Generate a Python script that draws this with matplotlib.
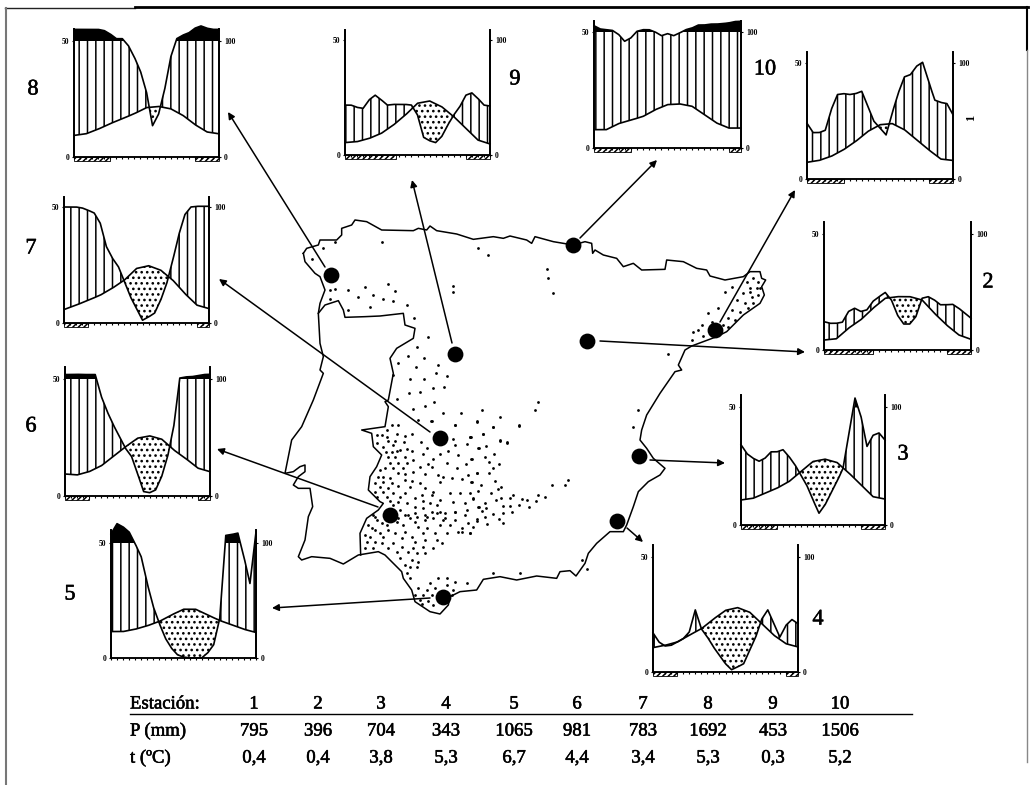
import matplotlib
matplotlib.use("Agg")
import matplotlib.pyplot as plt
import matplotlib.patheffects as pe
import numpy as np

W, H = 1030, 785
plt.rcParams['font.family'] = ['Liberation Serif', 'DejaVu Serif']
plt.rcParams['hatch.linewidth'] = 1.1

# monthly temperature, 13 values, and precipitation on half months, 25 values (P/2 scale)
months = np.arange(0, 13)
half_months = np.arange(0, 12.5, 0.5)

t_1 = [7.2, 8, 9.8, 12.6, 16.2, 20.5, 23.4, 23.9, 21.3, 17, 12.6, 8.6, 8]
p_1 = [24, 20, 20, 21, 30, 36.4, 36.8, 36.4, 36.8, 37.8, 31.3, 24.9, 22, 19, 28.4, 37, 44, 45, 48.6, 50.3, 42, 34, 33, 32.5, 27.7]
t_2 = [4.3, 4.8, 9.4, 13, 18, 22.3, 23, 23, 21.6, 15.9, 10.8, 6.5, 4.6]
p_2 = [12.2, 11.5, 11.5, 12, 16.6, 18, 16.6, 17.3, 21, 23, 24.8, 21.6, 15, 11.2, 11.2, 14.4, 22.3, 23, 21.6, 19.5, 19.5, 19.7, 18, 15.9, 13.7]
t_3 = [10.6, 11.3, 13.5, 15.6, 18.4, 22.7, 26.9, 27.9, 26.5, 22, 17, 12, 11]
p_3 = [34, 30.2, 28.3, 27, 28.3, 31, 31, 31.9, 29, 25.5, 21, 16.6, 10.6, 5, 8.5, 13.5, 18.4, 24, 39, 53.8, 46, 33.3, 38, 39, 36]
t_4 = [10.6, 11.6, 13, 16, 18.8, 23, 26.8, 28, 26, 21, 16, 12.3, 10.9]
p_4 = [17, 13, 11.3, 11.6, 13, 14.5, 17.4, 27, 18.8, 15.2, 10.9, 7.2, 3.6, 1, 2.2, 3.6, 9.4, 15.2, 23, 27, 21, 15.2, 20.3, 22.8, 21]
t_5 = [11.5, 11.5, 12.5, 14, 15.9, 18.7, 21.2, 21.2, 18.7, 16.3, 14.4, 12.5, 11.1]
p_5 = [54, 58.4, 57, 54.8, 49.7, 44, 32.4, 22.3, 15, 8.6, 4.3, 1.4, 0.4, 0, 0, 0, 2.2, 5.8, 17.3, 53.3, 53.7, 54.3, 44, 32.4, 54.8]
t_6 = [9.4, 9, 10.4, 12.9, 16.9, 21, 24.7, 25.7, 24.3, 19.7, 16, 11.9, 10.4]
p_6 = [51.9, 51.9, 52, 51.9, 51.9, 51.9, 42.6, 36, 30.4, 25.4, 20.4, 17, 9.7, 1.9, 1.4, 2.6, 8.3, 17, 29.7, 50.4, 50.9, 51, 51.4, 51.9, 52]
t_7 = [5.8, 7.7, 9.8, 12, 15, 18.5, 23.5, 24.7, 22.8, 18.5, 12.7, 7.7, 6.2]
p_7 = [50, 50, 50, 49.6, 48.6, 47.4, 43, 33, 28, 24.3, 17.8, 11.3, 6.2, 1.2, 2.6, 4.3, 9.8, 17, 27, 38, 46.7, 50, 50.3, 50.3, 50.3]
t_8 = [9.3, 10, 12, 14.4, 16.5, 18.7, 21.3, 21.8, 20.8, 18, 14, 10.8, 10]
p_8 = [55, 55, 55, 55, 55, 54.5, 53, 51, 51, 48, 43, 37, 28, 13.5, 18.5, 29, 43, 51, 52.5, 53.5, 55.5, 56.5, 55.5, 55, 55]
t_9 = [5.4, 5.8, 7.2, 9.4, 13, 17.4, 22.5, 23.5, 21, 16.7, 11.6, 6.5, 4.8]
p_9 = [21.7, 21.7, 20.7, 20.3, 24, 26, 24, 21.7, 22, 22, 22, 21.7, 17.4, 7.7, 6.2, 5.4, 8, 13, 17.4, 21, 26, 27, 24.6, 21.7, 21.3]
t_10 = [7.9, 7.9, 10.5, 12, 13.6, 16.5, 18.7, 19, 18, 14.4, 10.8, 8.6, 8.6]
p_10 = [52.7, 51.3, 51, 50.7, 49, 46, 47.4, 50.3, 51, 51, 50, 48.4, 49.3, 48.4, 49.6, 51, 51.7, 53, 53, 53.4, 53.4, 53.6, 53.9, 54.5, 54.6]

temps = [t_1, t_2, t_3, t_4, t_5, t_6, t_7, t_8, t_9, t_10]
precs = [p_1, p_2, p_3, p_4, p_5, p_6, p_7, p_8, p_9, p_10]

# months of frost at start and end of the year
frost_start = [3, 4, 3, 2, 0, 2, 2, 3, 4.2, 3]
frost_end = [10, 10, 10, 11, 12, 11, 11, 10, 10, 11]

# table
stations = ['1', '2', '3', '4', '5', '6', '7', '8', '9', '10']
p_mm = ['795', '396', '704', '343', '1065', '981', '783', '1692', '453', '1506']
t_c = ['0,4', '0,4', '3,8', '5,3', '6,7', '4,4', '3,4', '5,3', '0,3', '5,2']
table_x = [254, 318, 381, 446, 514, 577, 643, 708, 773, 840]

# box of each diagram in pixels: left, right, base, level of 50, top of the spines
boxes = [
    (807, 953, 179, 63, 52),
    (824, 971, 350, 234, 222),
    (741, 885, 525, 407, 395),
    (653, 798, 672, 557, 545),
    (111, 256, 658, 543, 530),
    (65, 210, 496, 379, 367),
    (64, 209, 323, 207, 197),
    (74, 219, 157, 41, 29),
    (345, 490, 155, 40, 30),
    (594, 741, 148, 32, 21),
]

# big numbers beside the diagrams
num_x = [971, 988, 903, 818, 70, 31, 31, 33, 515, 765]
num_y = [118, 283, 455, 620, 595, 427, 249, 90, 80, 70]

# station dots on the map and the ends of their arrows
dot_x = [715, 587, 639, 617, 443, 390, 440, 331, 455, 573]
dot_y = [330, 341, 456, 521, 597, 515, 438, 275, 354, 245]
arrow_from = [(720, 322), (600, 341), (650, 460), (627, 528), (430, 598),
              (378, 507), (430, 432), (325, 267), (452, 343), (580, 238)]
arrow_to = [(795, 190), (805, 352), (725, 463), (643, 542), (272, 608),
            (217, 449), (219, 279), (228, 112), (412, 180), (657, 160)]

coast = [(100, 130), (110, 115), (145, 105), (150, 90), (200, 90), (215, 75), (215, 55), (245, 45), (255, 30),
         (290, 35), (335, 60), (430, 62), (445, 55), (470, 60), (480, 48), (500, 62), (560, 72), (610, 88),
         (670, 80), (700, 85), (720, 78), (770, 90), (785, 100), (795, 80), (850, 95), (880, 100), (910, 105),
         (945, 95), (965, 100), (968, 130), (975, 120), (1000, 135), (1040, 145), (1060, 170), (1090, 160),
         (1115, 180), (1185, 178), (1190, 150), (1240, 155), (1280, 175), (1310, 180), (1320, 198), (1365, 210),
         (1420, 200), (1440, 185), (1470, 185), (1475, 205), (1487, 210), (1475, 230), (1483, 255), (1470, 280),
         (1420, 315), (1370, 365), (1340, 380), (1265, 408), (1245, 420), (1225, 465), (1235, 480), (1215, 485),
         (1170, 550), (1130, 615), (1115, 660), (1110, 690), (1130, 715), (1150, 745), (1185, 775), (1170, 795),
         (1135, 815), (1105, 845), (1090, 890), (1070, 945), (1060, 965), (1020, 965), (980, 1000), (955, 1030),
         (945, 1060), (918, 1098), (900, 1082), (870, 1085), (860, 1105), (800, 1098), (740, 1110), (690, 1100),
         (640, 1108), (620, 1140), (570, 1145), (540, 1160), (535, 1185), (510, 1212), (480, 1205), (435, 1175),
         (425, 1140), (400, 1105), (395, 1085), (345, 1035), (325, 1025), (265, 1035), (220, 1062), (180, 1045),
         (125, 1040), (95, 1050), (85, 1040), (105, 990), (115, 920), (128, 890), (120, 835), (85, 835), (70, 825),
         (85, 800), (105, 785), (105, 765), (90, 770), (70, 785), (45, 790), (65, 690), (95, 650), (130, 570),
         (160, 490), (150, 480), (160, 440), (150, 400), (145, 310), (150, 280), (165, 240), (150, 200), (135, 190),
         (105, 155), (100, 130)]
border = [(145, 310), (165, 285), (205, 272), (220, 300), (225, 322), (285, 320), (330, 318), (400, 310), (405, 345),
          (435, 355), (430, 385), (380, 415), (360, 445), (370, 490), (355, 570), (345, 575), (355, 590), (345, 650),
          (275, 660), (305, 670), (310, 710), (335, 735), (320, 770), (300, 800), (295, 840), (330, 875), (340, 880),
          (325, 900), (290, 925), (270, 970), (272, 1035)]

dots_map = [(125, 148), (160, 115), (195, 97), (180, 240), (195, 238), (235, 240), (285, 230), (355, 222), (375, 243),
            (265, 262), (308, 255), (340, 268), (370, 272), (180, 268), (300, 292), (235, 300), (412, 285), (432, 325),
            (1365, 245), (1385, 232), (1345, 295), (1315, 310), (1325, 335), (1295, 345), (1270, 365), (1300, 378),
            (1265, 390), (1285, 360), (1430, 215), (1450, 205), (1465, 215), (1440, 235), (1460, 235), (1420, 250),
            (1445, 260), (1465, 255), (1400, 270), (1425, 280), (1450, 280), (1385, 300), (1410, 305), (1435, 295),
            (1375, 325), (1395, 330), (1360, 345), (1375, 350), (1440, 245), (1470, 235),
            (473, 380), (440, 412), (415, 437), (463, 443), (385, 460), (505, 465), (437, 470), (497, 490), (530, 497),
            (370, 495), (420, 507), (462, 507), (523, 530), (490, 535), (417, 550), (450, 545), (380, 568), (465, 587),
            (492, 575), (430, 597), (520, 610), (573, 610), (635, 600), (690, 620), (445, 630), (483, 632), (620, 633),
            (555, 645), (670, 650), (748, 645), (640, 672), (600, 682), (690, 690), (712, 697),
            (620, 932), (650, 942), (700, 940), (600, 970), (575, 965),
            (335, 95), (625, 115), (655, 135), (830, 178), (835, 205), (848, 248), (550, 228), (548, 245), (805, 575),
            (795, 600), (1105, 600), (1090, 650), (1195, 432), (935, 1050), (950, 1078), (670, 1090), (750, 1088)]
dots_a = [(285, 15), (215, 3), (95, 15), (115, 15), (80, 30), (110, 42), (135, 48), (157, 42), (50, 45), (65, 45),
          (80, 50), (85, 62), (105, 62), (133, 65), (183, 65), (280, 58), (330, 50), (50, 70), (70, 80), (100, 75),
          (120, 90), (140, 88), (155, 92), (200, 85), (285, 75), (320, 73), (355, 85), (78, 97), (95, 95), (110, 92),
          (190, 103), (240, 103), (265, 93), (295, 105), (85, 112), (105, 112), (135, 110), (160, 120), (220, 117),
          (335, 118), (90, 130), (115, 128), (140, 128), (205, 133), (262, 130), (318, 132), (60, 150), (75, 143),
          (100, 145), (130, 145), (180, 142), (215, 140), (290, 145), (160, 155), (350, 158), (55, 170), (70, 170),
          (90, 175), (115, 160), (135, 163), (195, 163), (235, 165), (250, 172), (275, 175), (305, 177), (325, 165),
          (45, 190), (70, 185), (95, 190), (135, 180), (155, 182), (180, 190), (240, 185), (335, 185), (60, 200),
          (85, 205), (115, 198), (150, 200), (195, 205), (45, 215), (70, 215), (100, 218), (135, 218), (220, 215),
          (270, 218), (300, 218), (330, 218), (50, 232), (80, 230), (120, 230), (165, 235), (185, 225), (215, 225),
          (340, 235), (90, 242), (115, 245), (190, 242), (210, 248), (240, 240), (280, 245), (315, 250), (100, 255),
          (140, 250), (165, 262), (230, 255), (355, 260), (120, 270), (190, 265), (240, 275), (285, 275), (320, 270),
          (135, 285), (165, 280), (200, 290), (215, 275), (255, 295), (150, 295), (45, 290), (115, 295)]
dots_b = [(55, 15), (65, 30), (40, 45), (60, 60), (80, 40), (95, 45), (125, 35), (145, 45), (160, 15), (185, 20),
          (210, 15), (245, 10), (270, 10), (300, 5), (330, 15), (180, 35), (210, 30), (235, 25), (265, 30), (300, 30),
          (340, 40), (50, 55), (75, 70), (100, 60), (120, 70), (150, 65), (190, 50), (215, 55), (255, 45), (285, 45),
          (320, 55), (355, 50), (30, 75), (45, 80), (85, 80), (140, 85), (170, 80), (205, 70), (240, 70), (275, 70),
          (310, 65), (345, 70), (35, 95), (60, 95), (80, 100), (115, 100), (180, 95), (210, 90), (245, 90), (30, 115),
          (55, 115), (100, 115), (140, 110), (175, 115), (205, 110), (235, 115), (260, 100), (125, 125), (160, 125),
          (185, 130), (210, 130), (135, 145), (170, 150), (190, 155), (150, 165), (165, 172), (185, 172), (155, 190),
          (165, 205), (225, 220), (250, 205), (275, 205), (300, 215), (335, 220), (190, 235), (215, 240), (240, 235),
          (275, 225), (295, 240), (180, 255), (205, 255), (230, 255), (290, 255), (195, 270), (220, 272), (250, 270),
          (200, 283), (235, 285)]
dots_c = [(20, 5), (70, 22), (147, 17), (2, 50), (38, 42), (90, 62), (112, 68), (48, 77), (27, 85), (45, 110),
          (72, 103), (3, 118), (57, 127), (88, 132), (70, 143), (20, 158), (58, 160), (2, 185), (75, 182), (33, 195),
          (93, 200), (25, 212), (85, 208), (62, 218), (247, 196), (285, 196), (293, 180), (130, 225), (205, 225),
          (10, 237), (78, 240), (93, 235), (120, 233), (155, 236), (172, 240), (197, 242), (224, 232), (45, 248),
          (27, 260), (47, 263), (98, 258), (120, 257), (148, 254), (178, 260), (37, 272), (70, 283), (100, 278),
          (125, 277), (45, 292), (88, 296), (22, 298)]


def crop_xy(points, x0=270, y0=210):
    pts = np.array(points, dtype=float)
    return x0 + pts[:, 0] / 3, y0 + pts[:, 1] / 3


def heavy(txt, w=0.4):
    # the scan prints heavier than the regular face
    txt.set_path_effects([pe.withStroke(linewidth=w, foreground='black')])


fig = plt.figure(figsize=(W / 100, H / 100), dpi=100, facecolor='white')
page = fig.add_axes([0, 0, 1, 1])
page.set_xlim(0, W)
page.set_ylim(H, 0)
page.axis('off')

# frame of the scan
page.plot([5, 135], [8, 8], color='#222222', lw=1)
page.plot([135, 1028], [7, 7], color='black', lw=2)
page.plot([6, 6], [8, 785], color='#777777', lw=1.5)
page.plot([1027, 1027], [7, 50], color='black', lw=1.5)
page.plot([1027, 1027], [50, 762], color='#888888', lw=1)

# map
x, y = crop_xy(coast)
page.plot(x, y, color='black', lw=1.1)
x, y = crop_xy(border)
page.plot(x, y, color='black', lw=1.1)
for pts, x0, y0 in [(dots_map, 270, 210), (dots_a, 360, 420), (dots_b, 355, 510), (dots_c, 470, 420)]:
    x, y = crop_xy(pts, x0, y0)
    page.scatter(x, y, s=4, color='black', lw=0)

page.scatter(dot_x, dot_y, s=130, color='black', zorder=4, lw=0)
for a, b in zip(arrow_from, arrow_to):
    page.annotate('', xy=b, xytext=a, arrowprops=dict(arrowstyle='-|>', color='black', lw=1.1,
                                                     mutation_scale=10, shrinkA=0, shrinkB=0))

for i, (nx, ny) in enumerate(zip(num_x, num_y)):
    if i == 0:
        page.text(nx, ny, stations[i], fontsize=9, rotation=90, ha='center', va='center', fontweight='bold')
    else:
        heavy(page.text(nx, ny, stations[i], fontsize=16, ha='center', va='center'))

# table
heavy(page.text(130, 704, 'Estación:', fontsize=13.5, va='center'))
heavy(page.text(130, 731, 'P (mm)', fontsize=13.5, va='center'))
heavy(page.text(130, 758, 't (ºC)', fontsize=13.5, va='center'))
for i in range(10):
    heavy(page.text(table_x[i], 704, stations[i], fontsize=13.5, ha='center', va='center'))
    heavy(page.text(table_x[i], 731, p_mm[i], fontsize=13.5, ha='center', va='center'))
    heavy(page.text(table_x[i], 758, t_c[i], fontsize=13.5, ha='center', va='center'))
page.plot([130, 912], [714, 714], color='black', lw=1)

# climate diagrams
xx = np.linspace(0, 12, 1201)
for i in range(10):
    left, right, base, lev50, top = boxes[i]
    ax = fig.add_axes([left / W, 1 - base / H, (right - left) / W, (base - top) / H])
    ax.patch.set_visible(False)
    ymax = 50 * (base - top) / (base - lev50)
    ax.set_xlim(0, 12)
    ax.set_ylim(0, ymax)

    temp = np.interp(xx, months, temps[i])
    prec = np.interp(xx, half_months, precs[i])
    capped = np.minimum(prec, 50)

    ax.fill_between(xx, temp, capped, where=prec >= temp, interpolate=True, facecolor='none',
                    edgecolor='black', hatch='||', lw=0, clip_on=False)
    ax.fill_between(xx, prec, temp, where=prec <= temp, interpolate=True, facecolor='none',
                    edgecolor='black', hatch='...', lw=0, clip_on=False)
    ax.fill_between(xx, 50, prec, where=prec >= 50, interpolate=True, color='black', lw=0, clip_on=False)
    ax.plot(xx, temp, color='black', lw=1.2, clip_on=False)
    ax.plot(xx, prec, color='black', lw=1.2, clip_on=False)

    # frost bar under the axis
    bar_h = -1.6
    for start, width in [(0, frost_start[i]), (frost_end[i], 12 - frost_end[i])]:
        if width > 0:
            ax.bar(start, bar_h, width=width, align='edge', facecolor='white', edgecolor='black',
                   hatch='//////', lw=0.6, clip_on=False)

    ax.set_xticks(np.arange(0, 12.5, 0.5))
    ax.set_xticklabels([])
    ax.tick_params(axis='x', direction='out', length=1.5, width=0.8)
    ax.set_yticks([0, 50])
    ax.set_yticklabels(['0', '50'], fontsize=5.5, fontweight='bold')
    ax.tick_params(axis='y', length=1.5, width=0.8, pad=2)

    ax2 = ax.twinx()
    ax2.set_ylim(0, ymax * 2)
    ax2.set_yticks([0, 100])
    ax2.set_yticklabels(['0', '100'], fontsize=5.5, fontweight='bold')
    ax2.tick_params(axis='y', length=1.5, width=0.8, pad=2)
    ax2.patch.set_visible(False)
    for a in [ax, ax2]:
        a.spines['top'].set_visible(False)
        a.spines['left'].set_linewidth(1.3)
        a.spines['right'].set_linewidth(1.3)
        a.spines['bottom'].set_linewidth(1.1)

fig.savefig('out.png', dpi=100)
